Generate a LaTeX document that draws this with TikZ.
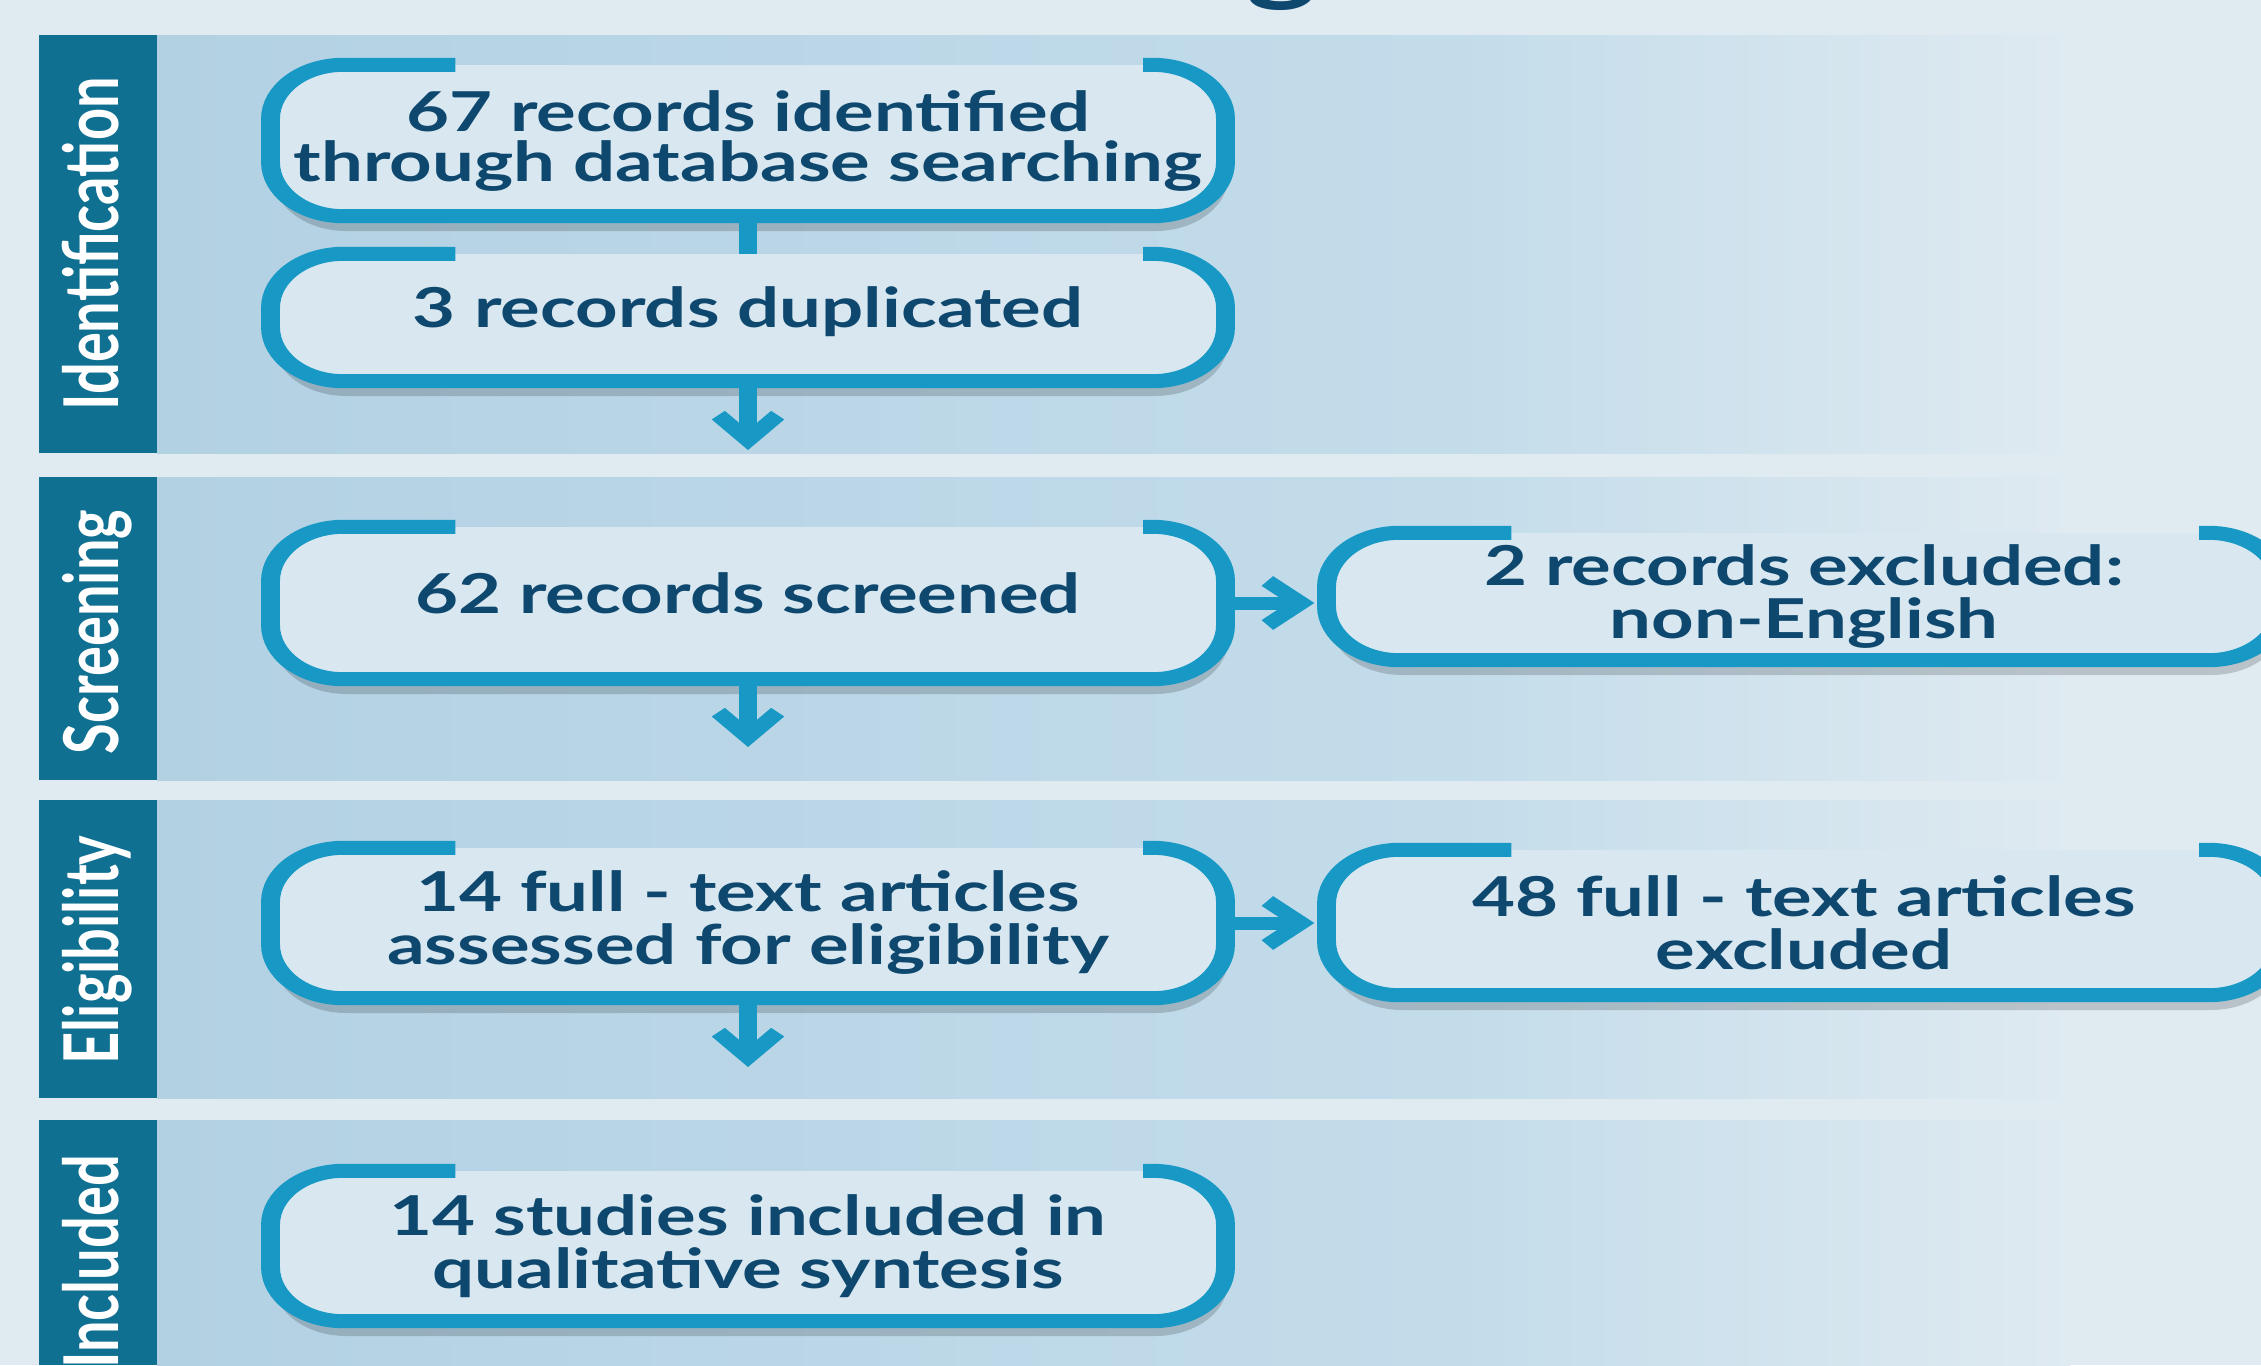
\documentclass[tikz,border=0pt]{standalone}
\usepackage{fontspec}
\setmainfont{Lato}
\usetikzlibrary{arrows.meta,shadows}
\definecolor{bgc}{HTML}{DFEAF1}
\definecolor{bandL}{HTML}{B2D1E3}
\definecolor{bandM}{HTML}{C3DCEA}
\definecolor{sidec}{HTML}{107092}
\definecolor{boxfill}{HTML}{D8E7F0}
\definecolor{boxline}{HTML}{1899C5}
\definecolor{txt}{HTML}{0E486E}
\newcommand\boxtxt{\fontsize{55}{53}\selectfont\bfseries}
\newcommand\phasetxt{\fontsize{56}{60}\selectfont\bfseries}
\tikzset{
  flowbox/.style={rectangle, rounded corners=54pt, fill=boxfill, minimum width=707pt,
    inner sep=0pt, align=center, text=txt, font=\boxtxt,
    drop shadow={shadow xshift=2pt, shadow yshift=-15pt, opacity=0.17, fill=black}},
  bord/.style={draw=boxline, line width=14pt, rounded corners=54pt},
  link/.style={draw=boxline, line width=13pt},
  arr/.style={draw=boxline, line width=13pt, -{Straight Barb[length=25pt,width=44pt]}},
  phase/.style={rotate=90, anchor=base, text=white, font=\phasetxt},
}
\begin{document}
\begin{tikzpicture}[x=1pt,y=-1pt]
\useasboundingbox (0,0) rectangle (2261,1365);
\fill[bgc] (0,0) rectangle (2261,1365);
\foreach \ya/\yb in {35/453,477/780,800/1098,1120/1365}{
  \fill[left color=bandL,right color=bandM] (157,\ya) rectangle (1450,\yb);
  \fill[left color=bandM,right color=bgc] (1449,\ya) rectangle (2070,\yb);
  \fill[sidec] (39,\ya) rectangle (157,\yb);
}
\begin{scope}[x=0.740741pt, y=-1pt, transform canvas={xscale=1.35}]
  \node[anchor=base, text=txt, font=\fontsize{100}{100}\selectfont\bfseries] (ttl) at (1282,-8) {g};
  \node[phase] (p1) at (118,244) {Identification};
  \node[phase] (p2) at (118,632) {Screening};
  \node[phase] (p3) at (118,950) {Eligibility};
  \node[phase] (p4) at (118,1262) {Included};

  \node[flowbox, minimum height=151pt, font=\fontsize{55}{50}\selectfont\bfseries] (b1) at (748,140.5) {67 records identified\\through database searching};
  \node[flowbox, minimum height=127pt, text depth=20pt] (b2) at (748,317.5) {3 records duplicated};
  \node[flowbox, minimum height=152pt, text depth=20pt] (b3) at (748,603) {62 records screened};
  \node[flowbox, minimum height=127pt] (b4) at (1804,596.5) {2 records excluded:\\non-English};
  \node[flowbox, minimum height=150pt] (b5) at (748,923) {14 full - text articles\\assessed for eligibility};
  \node[flowbox, minimum height=145pt] (b6) at (1804,922.5) {48 full - text articles\\excluded};
  \node[flowbox, minimum height=150pt] (b7) at (748,1246) {14 studies included in\\qualitative syntesis};

  \foreach \n in {b1,b2,b3,b4,b5,b6,b7}{
    \draw[bord] ([xshift=137pt]\n.north west) -- (\n.north west) -- (\n.south west)
      -- (\n.south east) -- (\n.north east) -- ([xshift=-61pt]\n.north east);
  }

  \draw[link] (b1.south) -- (b2.north);
  \coordinate (t1) at (748,450);
  \coordinate (t2) at (748,747);
  \coordinate (t3) at (748,1067);
  \draw[arr] (b2.south) -- (t1);
  \draw[arr] (b3.south) -- (t2);
  \draw[arr] (b5.south) -- (t3);
  \path (b3.east -| b4.west) coordinate (h1x);
  \path (b5.east -| b6.west) coordinate (h2x);
  \coordinate (h1) at ([xshift=-9pt]h1x);
  \coordinate (h2) at ([xshift=-9pt]h2x);
  \draw[arr] (b3.east) -- (h1);
  \draw[arr] (b5.east) -- (h2);
\end{scope}
\end{tikzpicture}
\end{document}
